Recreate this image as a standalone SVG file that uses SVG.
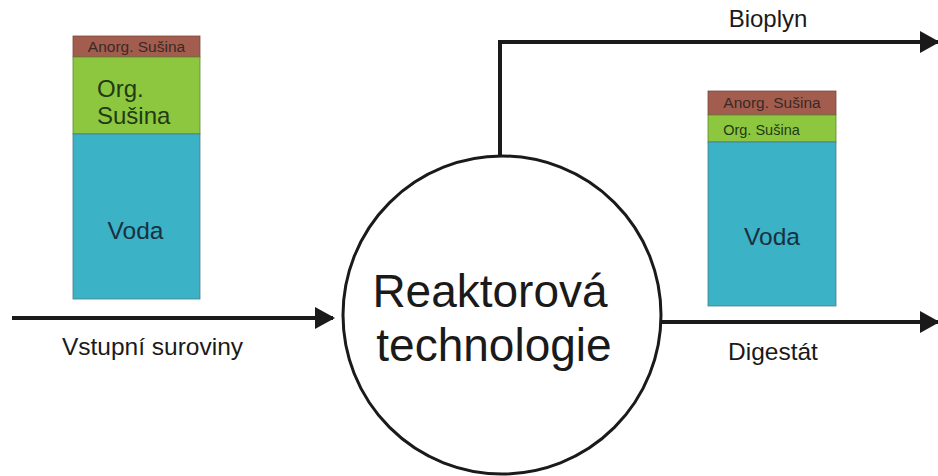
<svg xmlns="http://www.w3.org/2000/svg" width="938" height="476" viewBox="0 0 938 476">
<defs>
<style>
text{font-family:"Liberation Sans",Arial,sans-serif;fill:#1a1a1a}
.an{fill:#a35d4f;stroke:#7a4a40;stroke-width:0.8}
.og{fill:#8dc73f;stroke:#5a8a2a;stroke-width:0.8}
.vo{fill:#3bb2c5;stroke:#4a7a88;stroke-width:0.8}
.ln{stroke:#1a1a1a;stroke-width:4;fill:none}
.dk{fill:#3a2a24}
.dg{fill:#1f3a14}
.dv{fill:#1a3040}
</style>
<marker id="ah" markerWidth="20" markerHeight="22" refX="18" refY="11" orient="auto" markerUnits="userSpaceOnUse">
<path d="M0,0 L20,11 L0,22 Z" fill="#1a1a1a"/>
</marker>
</defs>
<rect width="938" height="476" fill="#ffffff"/>
<g id="input-box">
<rect class="an" x="73" y="36" width="127" height="21"/>
<rect class="og" x="73" y="57" width="127" height="77"/>
<rect class="vo" x="73" y="134" width="127" height="165"/>
<text class="dk" x="136.5" y="52" font-size="15.5" text-anchor="middle">Anorg. Sušina</text>
<text class="dg" x="97" y="97" font-size="24">Org.</text>
<text class="dg" x="97" y="124" font-size="24">Sušina</text>
<text class="dv" x="135.5" y="239" font-size="24.5" text-anchor="middle">Voda</text>
</g>
<g id="output-box">
<rect class="an" x="708" y="91" width="128" height="24"/>
<rect class="og" x="708" y="115" width="128" height="27"/>
<rect class="vo" x="708" y="142" width="128" height="164"/>
<text class="dk" x="772" y="108" font-size="15.5" text-anchor="middle">Anorg. Sušina</text>
<text class="dg" x="761.5" y="135" font-size="14.5" text-anchor="middle">Org. Sušina</text>
<text class="dv" x="772" y="245" font-size="24.5" text-anchor="middle">Voda</text>
</g>
<g id="reactor">
<circle cx="502" cy="315" r="159" fill="#ffffff" stroke="#1a1a1a" stroke-width="3"/>
<text x="490" y="307" font-size="46" text-anchor="middle">Reaktorová</text>
<text x="494" y="361" font-size="46" text-anchor="middle">technologie</text>
</g>
<g id="connectors">
<line class="ln" x1="12" y1="318" x2="333" y2="318" marker-end="url(#ah)"/>
<polyline class="ln" points="500,156 500,42 938,42" marker-end="url(#ah)"/>
<line class="ln" x1="662" y1="322" x2="938" y2="322" marker-end="url(#ah)"/>
</g>
<g id="labels">
<text x="152.5" y="355" font-size="24.5" text-anchor="middle">Vstupní suroviny</text>
<text x="768" y="27" font-size="24" text-anchor="middle">Bioplyn</text>
<text x="773" y="360" font-size="24.5" text-anchor="middle">Digestát</text>
</g>
</svg>
